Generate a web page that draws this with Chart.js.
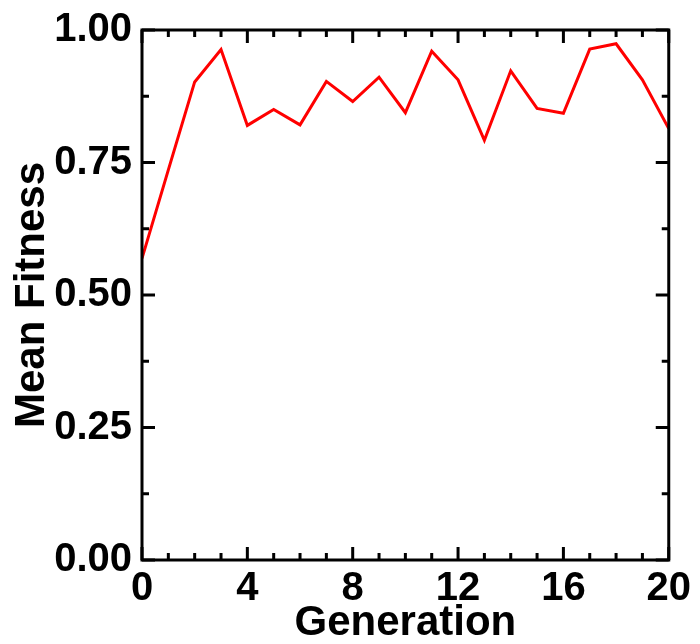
<!DOCTYPE html>
<html>
<head>
<meta charset="utf-8">
<script src="https://cdn.jsdelivr.net/npm/chart.js@4/dist/chart.umd.min.js"></script>
<style>
  html, body { margin: 0; padding: 0; background: #fff; }
  #wrap { width: 700px; height: 644px; position: relative; }
</style>
</head>
<body>
<div id="wrap"><canvas id="fitnessChart"></canvas></div>
<script>
// data
const generations = [0, 1, 2, 3, 4, 5, 6, 7, 8, 9, 10, 11, 12, 13, 14, 15, 16, 17, 18, 19, 20];
const meanFitness = [0.569, 0.736, 0.902, 0.963, 0.820, 0.850, 0.821, 0.903, 0.865, 0.911, 0.844,
                     0.960, 0.906, 0.792, 0.923, 0.852, 0.843, 0.964, 0.974, 0.906, 0.814];
const xTicks = [0, 4, 8, 12, 16, 20];
const yTicks = [0, 0.25, 0.5, 0.75, 1.0];

const FONT = '"Liberation Sans", Arial, Helvetica, sans-serif';

// frame + inward ticks on all four sides (positions come from the scales)
const framePlugin = {
  id: 'frame',
  afterDraw(chart) {
    const { ctx, chartArea: a, scales: { x, y } } = chart;
    ctx.save();
    ctx.strokeStyle = '#000';
    ctx.lineWidth = 3;
    ctx.lineCap = 'butt';
    ctx.beginPath();
    for (let g = 0; g <= 20; g++) {
      const len = g % 4 === 0 ? 13 : 7;
      const px = x.getPixelForValue(g);
      ctx.moveTo(px, a.bottom); ctx.lineTo(px, a.bottom - len);
      ctx.moveTo(px, a.top); ctx.lineTo(px, a.top + len);
    }
    for (let i = 0; i <= 8; i++) {
      const v = i * 0.125;
      const len = i % 2 === 0 ? 13 : 7;
      const py = y.getPixelForValue(v);
      ctx.moveTo(a.left, py); ctx.lineTo(a.left + len, py);
      ctx.moveTo(a.right, py); ctx.lineTo(a.right - len, py);
    }
    ctx.stroke();
    ctx.strokeRect(a.left, a.top, a.right - a.left, a.bottom - a.top);
    ctx.restore();
  }
};

new Chart(document.getElementById('fitnessChart'), {
  type: 'line',
  data: {
    datasets: [{
      data: generations.map((g, i) => ({ x: g, y: meanFitness[i] })),
      borderColor: '#ff0000',
      borderWidth: 3,
      pointRadius: 0,
      tension: 0,
      fill: false
    }]
  },
  options: {
    responsive: true,
    maintainAspectRatio: false,
    animation: false,
    layout: { padding: { left: 0, top: 30, right: 28, bottom: 0 } },
    plugins: { legend: { display: false }, tooltip: { enabled: false } },
    scales: {
      x: {
        type: 'linear',
        min: 0, max: 20,
        afterBuildTicks: s => { s.ticks = xTicks.map(v => ({ value: v })); },
        afterFit: s => { s.height = 84; },
        grid: { display: false, drawTicks: false },
        border: { display: false },
        ticks: {
          color: '#000',
          padding: 9,
          maxRotation: 0,
          font: { family: FONT, size: 40, weight: 'bold', lineHeight: 1 }
        },
        title: {
          display: true,
          text: 'Generation',
          color: '#000',
          padding: { top: 0, bottom: 0 },
          font: { family: FONT, size: 42, weight: 'bold', lineHeight: 1 }
        }
      },
      y: {
        min: 0, max: 1,
        afterBuildTicks: s => { s.ticks = yTicks.map(v => ({ value: v })); },
        afterFit: s => { s.width = 142; },
        grid: { display: false, drawTicks: false },
        border: { display: false },
        ticks: {
          color: '#000',
          padding: 10,
          callback: v => Number(v).toFixed(2),
          font: { family: FONT, size: 40, weight: 'bold', lineHeight: 1 }
        },
        title: {
          display: true,
          text: 'Mean Fitness',
          color: '#000',
          padding: { top: 11, bottom: 0 },
          font: { family: FONT, size: 42, weight: 'bold', lineHeight: 1 }
        }
      }
    }
  },
  plugins: [framePlugin]
});
</script>
</body>
</html>
